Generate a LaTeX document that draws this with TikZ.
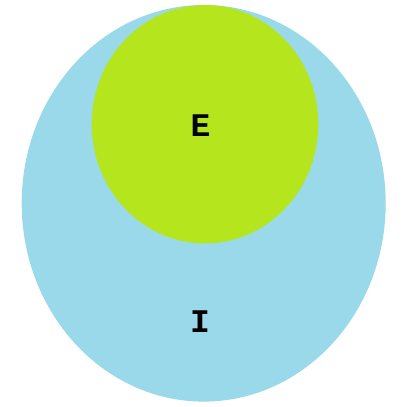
\documentclass[tikz,border=0pt]{standalone}
\usepackage{fontspec}
\setmainfont{Liberation Mono}
\definecolor{paleblue}{RGB}{153,217,234}
\definecolor{limegreen}{RGB}{181,230,29}
\begin{document}
\begin{tikzpicture}[x=1pt,y=-1pt,
  lbl/.style={font=\fontsize{33}{33}\selectfont\bfseries, text=black, inner sep=0pt}]
\useasboundingbox (0,0) rectangle (407,407);
\fill[paleblue] (203.7,203.3) ellipse [x radius=182, y radius=198.3];
\fill[limegreen] (205,124.2) ellipse [x radius=113.3, y radius=119.2];
\node[lbl] (E) at (200.5,126) {E};
\node[lbl] (I) at (200,321.5) {I};
\end{tikzpicture}
\end{document}
